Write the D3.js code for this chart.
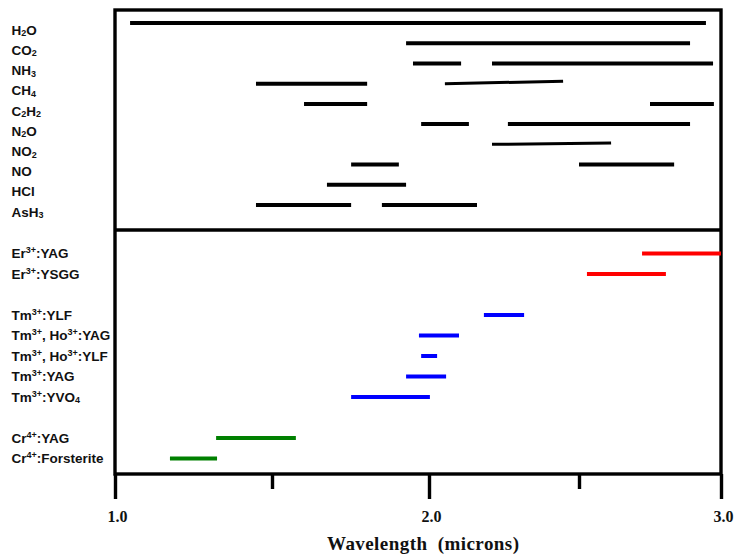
<!DOCTYPE html>
<meta charset="utf-8">
<head>
  <title>Absorption bands and laser lines</title>
</head>
<style>
body { margin: 0; background: #fff; }
.label { font-family: "Liberation Sans", Arial, sans-serif; font-weight: bold; font-size: 13.5px; fill: #111; }
.axis text { font-family: "Liberation Serif", "Times New Roman", serif; font-weight: bold; font-size: 16px; fill: #111; }
.axis line { stroke: #000; stroke-width: 3.4px; }
.title { font-family: "Liberation Serif", "Times New Roman", serif; font-weight: bold; font-size: 19px; fill: #111; white-space: pre; }
.frame { fill: none; stroke: #000; stroke-width: 3.4px; }
</style>
<body>
<svg width="734" height="554"></svg>

<script src="https://cdnjs.cloudflare.com/ajax/libs/d3/7.8.5/d3.min.js"></script>
<script>
// gases: "{_x}" = subscript, "{^x}" = superscript
var gasNames = ["H{_2}O", "CO{_2}", "NH{_3}", "CH{_4}", "C{_2}H{_2}", "N{_2}O", "NO{_2}", "NO", "HCl", "AsH{_3}"];
var gasBands = [
  [[1.048, 2.947]],
  [[1.927, 2.891]],
  [[1.949, 2.107], [2.21, 2.972]],
  [[1.449, 1.803], [2.053, 2.447]],
  [[1.602, 1.803], [2.75, 2.975]],
  [[1.975, 2.133], [2.263, 2.891]],
  [[2.21, 2.613]],
  [[1.752, 1.904], [2.5, 2.835]],
  [[1.675, 1.927]],
  [[1.449, 1.752], [1.85, 2.16]]
];

var laserNames = ["Er{^3+}:YAG", "Er{^3+}:YSGG", "Tm{^3+}:YLF", "Tm{^3+}, Ho{^3+}:YAG", "Tm{^3+}, Ho{^3+}:YLF",
                  "Tm{^3+}:YAG", "Tm{^3+}:YVO{_4}", "Cr{^4+}:YAG", "Cr{^4+}:Forsterite"];
var laserGroup = ["Er", "Er", "Tm", "Tm", "Tm", "Tm", "Tm", "Cr", "Cr"];
var laserStart = [2.722, 2.528, 2.183, 1.968, 1.975, 1.927, 1.752, 1.322, 1.175];
var laserEnd   = [3.0, 2.806, 2.317, 2.1, 2.027, 2.057, 2.003, 1.576, 1.325];

var groups = ["Er", "Tm", "Cr"];
var groupColor = {Er: "#ff0000", Tm: "#0000ff", Cr: "#008000"};

var majorTicks = [1, 2, 3];
var minorTicks = [1.5, 2.5];

// the two hand-drawn slanted gas lines: [row-band] -> rise in px
var slanted = {"3-1": 2.4, "6-0": 1.3};

var svg = d3.select("svg");

// the printed axis is not quite even, follow its tick marks
var x = d3.scaleLinear()
  .domain([1, 1.5, 2, 2.5, 3])
  .range([115, 272, 429, 579, 721]);

var yGas = d3.scaleLinear().domain([0, gasNames.length - 1]).range([30, 212]);
var yLaser = d3.scaleLinear().domain([0, 10]).range([253.5, 458.5]);

function laserRow(i) { return i + groups.indexOf(laserGroup[i]); }

function writeLabel(sel, s) {
  var shift = 0;
  s.split(/(\{[_^][^}]*\})/).forEach(function(part) {
    if (!part) return;
    var t = sel.append("tspan");
    if (part[0] == "{") {
      var d = part[1] == "_" ? 1.5 : -4.8;
      t.attr("font-size", "9px").attr("dy", d - shift).text(part.slice(2, -1));
      shift = d;
    } else {
      if (shift) t.attr("dy", -shift);
      shift = 0;
      t.text(part);
    }
  });
}

// frame
svg.append("rect").attr("class", "frame")
  .attr("x", x(1)).attr("y", 10)
  .attr("width", x(3) - x(1)).attr("height", 464);
svg.append("line")
  .attr("x1", x(1)).attr("x2", x(3))
  .attr("y1", 230).attr("y2", 230)
  .attr("stroke", "#000").attr("stroke-width", 3.4);

// gas rows
svg.selectAll("text.gas")
  .data(gasNames)
  .enter().append("text")
  .attr("class", "label gas")
  .attr("x", 11.5)
  .attr("y", function(d, i) { return yGas(i) + 4.7; })
  .each(function(d) { writeLabel(d3.select(this), d); });

var gasSegs = [];
gasBands.forEach(function(bands, i) {
  bands.forEach(function(b, j) { gasSegs.push({row: i, band: j, a: b[0], b: b[1]}); });
});

svg.selectAll("line.gasband")
  .data(gasSegs)
  .enter().append("line")
  .attr("class", "gasband")
  .attr("x1", function(d) { return x(d.a); })
  .attr("x2", function(d) { return x(d.b); })
  .attr("y1", function(d) { return yGas(d.row) - 7; })
  .attr("y2", function(d) { return yGas(d.row) - 7 - (slanted[d.row + "-" + d.band] || 0); })
  .attr("stroke", "#000")
  .attr("stroke-width", function(d) { return slanted[d.row + "-" + d.band] ? 3 : 4; });

// laser rows
svg.selectAll("text.laser")
  .data(laserNames)
  .enter().append("text")
  .attr("class", "label laser")
  .attr("x", 11.5)
  .attr("y", function(d, i) { return yLaser(laserRow(i)) + 4.7; })
  .each(function(d) { writeLabel(d3.select(this), d); });

svg.selectAll("line.laserband")
  .data(laserNames)
  .enter().append("line")
  .attr("class", "laserband")
  .attr("x1", function(d, i) { return x(laserStart[i]); })
  .attr("x2", function(d, i) { return x(laserEnd[i]); })
  .attr("y1", function(d, i) { return yLaser(laserRow(i)); })
  .attr("y2", function(d, i) { return yLaser(laserRow(i)); })
  .attr("stroke", function(d, i) { return groupColor[laserGroup[i]]; })
  .attr("stroke-width", 4);

// axis
var major = svg.append("g").attr("class", "axis")
  .attr("transform", "translate(0,474)")
  .call(d3.axisBottom(x).tickValues(majorTicks).tickSize(25).tickFormat(d3.format(".1f")));
major.select(".domain").remove();
major.selectAll("text").attr("y", 48).attr("dy", 0).attr("dx", 2);

var minor = svg.append("g").attr("class", "axis")
  .attr("transform", "translate(0,474)")
  .call(d3.axisBottom(x).tickValues(minorTicks).tickSize(15).tickFormat(""));
minor.select(".domain").remove();

svg.append("text")
  .attr("class", "title")
  .attr("x", 423).attr("y", 550)
  .attr("text-anchor", "middle")
  .attr("textLength", 192)
  .text("Wavelength\u00a0\u00a0(microns)");
</script>
</body>
</html>
